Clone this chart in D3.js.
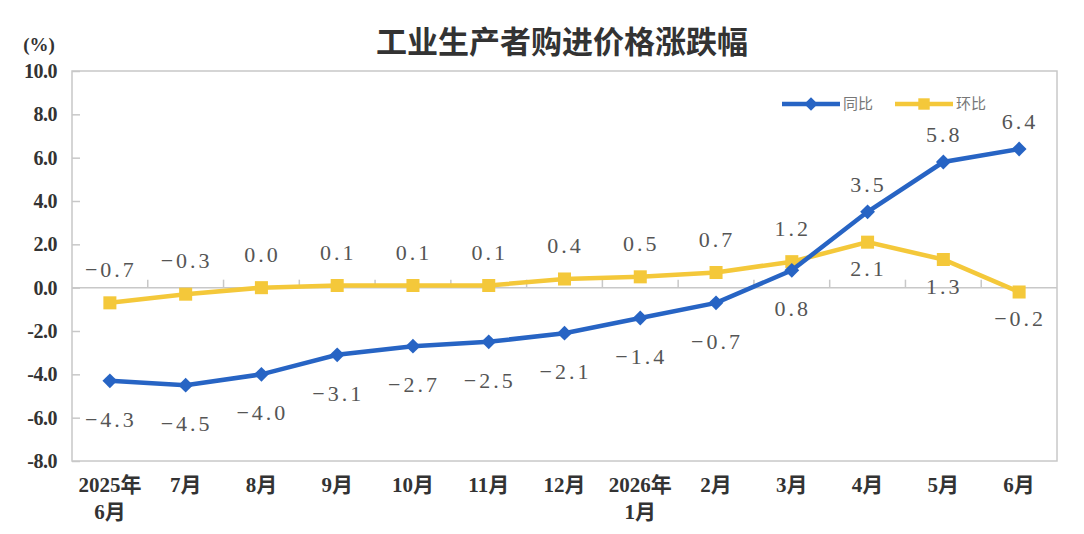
<!DOCTYPE html>
<html>
<head>
<meta charset="utf-8">
<script src="https://cdn.jsdelivr.net/npm/d3@7"></script>
<style>
  body { margin: 0; background: #fff; }
  svg { display: block; }
</style>
</head>
<body>
<svg id="chart" width="1084" height="534"></svg>
<script>
// categories (two-line labels split by \n)
const months = ['2025年\n6月', '7月', '8月', '9月', '10月', '11月', '12月', '2026年\n1月', '2月', '3月', '4月', '5月', '6月'];
const yoy = [-4.3, -4.5, -4.0, -3.1, -2.7, -2.5, -2.1, -1.4, -0.7, 0.8, 3.5, 5.8, 6.4];   // 同比
const mom = [-0.7, -0.3, 0.0, 0.1, 0.1, 0.1, 0.4, 0.5, 0.7, 1.2, 2.1, 1.3, -0.2];        // 环比
const yTicks = [10, 8, 6, 4, 2, 0, -2, -4, -6, -8];
// label above (-1) or below (+1) the point
const yoyPos = [1, 1, 1, 1, 1, 1, 1, 1, 1, 1, -1, -1, -1];
const momPos = [-1, -1, -1, -1, -1, -1, -1, -1, -1, -1, 1, 1, 1];

const svg = d3.select('#chart');
const margin = { top: 71, right: 27, bottom: 73, left: 72 };
const width = 1084, height = 534;
const innerWidth = width - margin.left - margin.right;
const innerHeight = height - margin.top - margin.bottom;

const blue = '#2764c4';
const yellow = '#f4c83a';

const xScale = d3.scaleBand()
    .domain(months)
    .range([0, innerWidth]);

const yScale = d3.scaleLinear()
    .domain([-8, 10])
    .range([innerHeight, 0]);

const g = svg.append('g')
    .attr('transform', `translate(${margin.left},${margin.top})`);

// title
svg.append('text')
    .attr('x', 562)
    .attr('y', 53)
    .style('text-anchor', 'middle')
    .style('font-family', '"Noto Sans CJK SC", sans-serif')
    .style('font-weight', 'bold')
    .style('font-size', '31px')
    .style('fill', '#333')
    .text('工业生产者购进价格涨跌幅');

svg.append('text')
    .attr('x', 39)
    .attr('y', 51)
    .style('text-anchor', 'middle')
    .style('font-family', '"Liberation Serif", serif')
    .style('font-weight', 'bold')
    .style('font-size', '19px')
    .style('fill', '#333')
    .text('(%)');

// frame
g.append('rect')
    .attr('width', innerWidth)
    .attr('height', innerHeight)
    .style('fill', 'none')
    .style('stroke', '#c8c8c8')
    .style('stroke-width', 1.5);

// y axis (ticks pointing inward)
const yAxis = g.append('g')
    .call(d3.axisLeft(yScale).tickValues(yTicks).tickSize(-8).tickPadding(15).tickFormat(d => d3.format('.1f')(d).replace('−', '-')));
yAxis.select('.domain').remove();
yAxis.selectAll('line').style('stroke', '#c8c8c8').style('stroke-width', 1.5);
yAxis.selectAll('text')
    .style('font-family', '"Liberation Serif", serif')
    .style('font-weight', 'bold')
    .style('font-size', '20px')
    .style('letter-spacing', '-0.5px')
    .style('fill', '#333');

// zero line with category ticks between bands
const zeroY = yScale(0);
g.append('line')
    .attr('x1', 0).attr('x2', innerWidth)
    .attr('y1', zeroY).attr('y2', zeroY)
    .style('stroke', '#c8c8c8').style('stroke-width', 1.5);
g.selectAll('.cat-tick')
    .data(months.slice(1))
    .join('line')
    .attr('class', 'cat-tick')
    .attr('x1', d => xScale(d)).attr('x2', d => xScale(d))
    .attr('y1', zeroY).attr('y2', zeroY - 8)
    .style('stroke', '#c8c8c8').style('stroke-width', 1.5);

// x labels under the frame
const xl = g.selectAll('.xlab')
    .data(months)
    .join('text')
    .attr('class', 'xlab')
    .attr('x', d => xScale(d) + xScale.bandwidth() / 2)
    .attr('y', innerHeight + 31)
    .style('text-anchor', 'middle')
    .style('font-family', '"Liberation Serif", "Noto Sans CJK SC", serif')
    .style('font-weight', 'bold')
    .style('font-size', '21px')
    .style('fill', '#333');
xl.selectAll('tspan')
    .data(d => d.split('\n'))
    .join('tspan')
    .attr('x', function() { return d3.select(this.parentNode).attr('x'); })
    .attr('dy', (d, i) => i === 0 ? 0 : 27)
    .text(d => d);

const cx = (d, i) => xScale(months[i]) + xScale.bandwidth() / 2;

function drawSeries(values, color, diamond) {
    const line = d3.line()
        .x((d, i) => cx(d, i))
        .y(d => yScale(d));
    g.append('path')
        .datum(values)
        .style('fill', 'none')
        .style('stroke', color)
        .style('stroke-width', 4.5)
        .attr('d', line);
    g.selectAll(null)
        .data(values)
        .join('path')
        .attr('transform', (d, i) => `translate(${cx(d, i)},${yScale(d)})` + (diamond ? ' rotate(45)' : ''))
        .attr('d', d3.symbol().type(d3.symbolSquare).size(diamond ? 110 : 170))
        .style('fill', color);
}

// above / below offsets differ per series, as in the original layout
function drawLabels(values, pos, above, below) {
    g.selectAll(null)
        .data(values)
        .join('text')
        .attr('x', (d, i) => cx(d, i) + 1)
        .attr('y', (d, i) => yScale(d) + (pos[i] > 0 ? below : above))
        .style('text-anchor', 'middle')
        .style('font-family', '"Liberation Serif", serif')
        .style('font-size', '22px')
        .style('letter-spacing', '3px')
        .style('fill', '#555')
        .text(d => d3.format('.1f')(d));
}

drawSeries(mom, yellow, false);
drawSeries(yoy, blue, true);
drawLabels(yoy, yoyPos, -20, 46);
drawLabels(mom, momPos, -26, 34);

// legend
const legend = svg.append('g').attr('transform', 'translate(782,104)');
const items = [{ name: '同比', color: blue, diamond: true }, { name: '环比', color: yellow, diamond: false }];
items.forEach((it, i) => {
    const lg = legend.append('g').attr('transform', `translate(${i * 113},0)`);
    lg.append('line').attr('x1', 0).attr('x2', 58).style('stroke', it.color).style('stroke-width', 4.5);
    lg.append('path').attr('transform', 'translate(29,0)' + (it.diamond ? ' rotate(45)' : ''))
        .attr('d', d3.symbol().type(d3.symbolSquare).size(it.diamond ? 90 : 130))
        .style('fill', it.color);
    lg.append('text').attr('x', 61).attr('y', 5)
        .style('font-family', '"Noto Sans CJK SC", sans-serif')
        .style('font-size', '15px')
        .style('fill', '#777')
        .text(it.name);
});
</script>
</body>
</html>
